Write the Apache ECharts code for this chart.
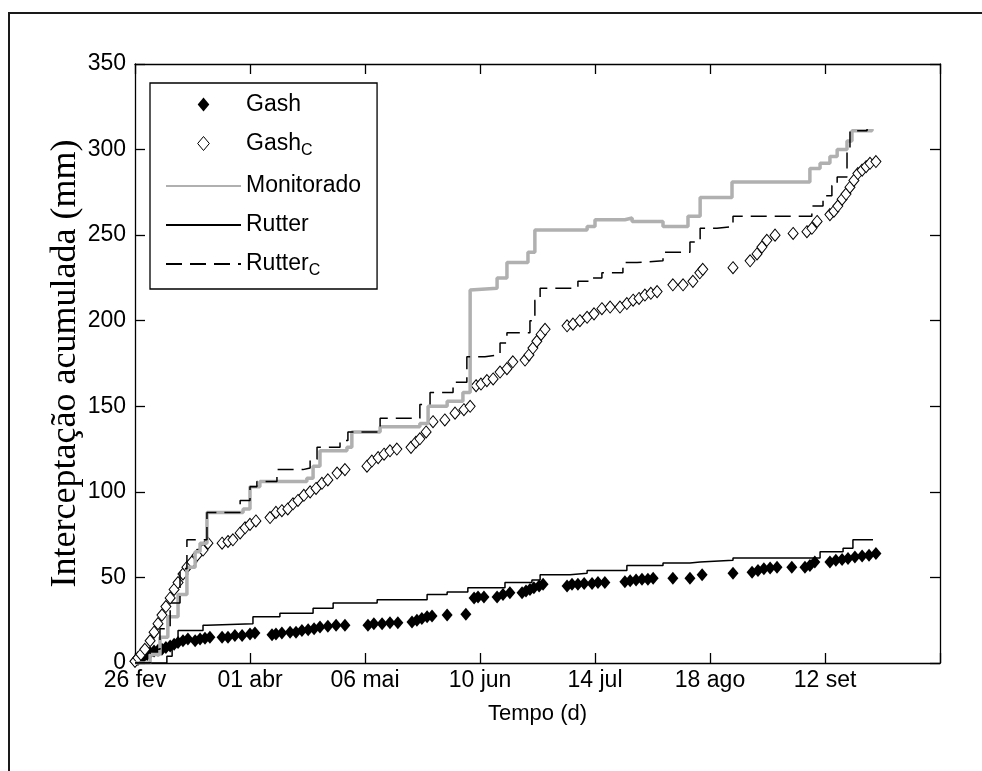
<!DOCTYPE html>
<html>
<head>
<meta charset="utf-8">
<script src="https://cdn.jsdelivr.net/npm/echarts@6/dist/echarts.min.js"></script>
<style>
html, body { margin: 0; padding: 0; background: #fff; }
#chart { width: 982px; height: 771px; }
</style>
</head>
<body>
<div id="chart"></div>
<script>
// eixo x em dias desde 26 fev
var xTickLabels = ['26 fev', '01 abr', '06 mai', '10 jun', '14 jul', '18 ago', '12 set'];

// Gash (losangos cheios)
var gashDays = [0, 0.9, 1.8, 2.7, 3.7, 4.6, 5.8, 7.0, 8.2, 9.4, 10.7, 11.9, 13.1, 14.6, 16.1, 18.3, 19.8, 21.3, 22.8,
  26.5, 28.3, 30.4, 32.6, 35.0, 36.5, 41.7, 42.9, 44.7, 47.2, 49.0, 50.8, 52.7, 54.5, 56.3, 58.7, 61.2, 63.9,
  70.9, 72.7, 75.2, 77.6, 80.0, 84.3, 85.8, 87.3, 88.9, 90.4, 95.0, 100.7, 103.2, 104.4, 106.2, 110.2, 112.0, 114.1,
  117.8, 119.0, 120.2, 121.4, 123.0, 124.2, 131.5, 133.0, 134.8, 136.7, 139.1, 140.9, 143.0, 149.1, 150.7, 152.5,
  154.3, 156.1, 157.7, 163.7, 168.9, 172.6, 182.0, 187.8, 189.6, 191.4, 193.3, 195.4, 199.9, 203.9, 205.4, 206.9,
  211.5, 213.3, 215.2, 217.0, 219.1, 221.3, 223.4, 225.5];
var gashValues = [1, 2, 3, 4, 5, 6, 7, 7.5, 8, 9, 10, 11, 12, 13, 14, 13, 14, 14.5, 15,
  15, 15, 16, 16, 17, 17.5, 16.5, 17, 17.5, 18, 18, 19, 19.5, 20, 21, 21.5, 22, 22,
  22, 23, 23, 23.5, 23.5, 24, 25, 26, 27, 27.5, 28, 28.5, 38, 38.5, 38.5, 38.5, 40, 41,
  41, 42, 43, 44, 45, 46, 45, 46, 46, 46.5, 46.5, 47, 47, 47.5, 48, 48.5,
  49, 49, 49.5, 49.5, 49.5, 51.5, 52.5, 53, 54, 55, 55.5, 56, 56, 56, 57, 59,
  59, 60, 60.5, 61, 62, 62.5, 63, 64];

// Gash_C (losangos vazios)
var gashCDays = [0, 0.9, 1.8, 3.0, 4.6, 5.8, 7.0, 8.2, 9.4, 10.7, 11.9, 13.1, 14.6, 15.8, 17.3, 18.9, 20.7, 22.2,
  26.5, 28.3, 29.8, 32.0, 33.5, 35.0, 36.8, 41.1, 42.9, 44.7, 46.5, 48.1, 49.6, 51.4, 53.3, 55.1, 56.9, 58.7, 61.5, 63.9,
  70.6, 72.1, 74.0, 75.8, 77.6, 79.7, 84.0, 85.5, 86.7, 88.6, 90.7, 94.3, 97.4, 100.1, 102.0, 103.8, 105.3, 107.1,
  109.0, 111.1, 113.2, 115.0, 118.7, 119.9, 121.1, 122.3, 123.6, 124.8, 131.5, 133.3, 135.4, 137.6, 139.7, 142.1,
  144.6, 147.6, 149.7, 151.6, 153.4, 155.2, 157.0, 158.9, 163.7, 166.8, 169.8, 171.9, 172.8, 182.0, 187.2, 189.3,
  190.8, 192.3, 194.8, 200.3, 204.5, 206.0, 207.6, 211.5, 212.7, 213.9, 215.2, 216.4, 217.6, 218.8, 220.0, 221.3,
  222.5, 223.7, 225.5];
var gashCValues = [1, 3, 5, 8, 13, 18, 23, 28, 33, 38, 43, 47, 52, 56, 59, 63, 66, 70,
  70, 71, 72, 76, 79, 81, 83, 85, 88, 89, 90, 93, 95, 98, 100, 102, 105, 107, 111, 113,
  115, 118, 120, 122, 124, 125, 126, 129, 131, 135, 141, 142, 146, 148, 150, 162, 163, 165,
  166, 170, 172, 176, 177, 180, 184, 188, 192, 195, 197, 198, 200, 202, 204, 207,
  208, 208, 210, 212, 213, 215, 216, 217, 221, 221, 223, 228, 230, 231, 235, 239,
  243, 247, 250, 251, 252, 254, 258, 262, 264, 267, 271, 274, 278, 282, 286, 288,
  290, 292, 293];

// Monitorado (linha cinza)
var monDays = [0, 4.6, 7.6, 10.0, 13.1, 15.8, 18.3, 19.8, 21.9, 32.9, 35.0, 38.0, 52.3, 54.2, 56.3, 64.5, 66.0,
  74.6, 86.7, 89.2, 95.0, 99.8, 102.0, 102.6, 110.2, 113.2, 119.6, 121.7, 137.6, 140.0, 149.1, 151.3, 160.7,
  168.3, 172.0, 181.7, 205.4, 208.5, 211.5, 213.7, 216.7, 218.2, 224.3];
var monValues = [0, 5, 15, 27, 40, 56, 65, 70, 88, 90, 103, 106, 108, 115, 124, 126, 135,
  138, 140, 150, 153, 158, 218, 219, 225, 234, 240, 253, 255, 259, 260, 258, 255,
  261, 272, 281, 289, 292, 296, 300, 305, 311, 312];

// Rutter (linha cheia)
var rutDays = [0, 9.7, 11.3, 13.1, 20.7, 21.9, 35.9, 44.1, 54.2, 60.3, 73.7, 88.9, 95.0, 101.3, 112.6, 120.8,
  123.3, 132.4, 137.6, 149.7, 160.7, 168.9, 172.0, 182.0, 208.5, 215.5, 218.5, 224.6];
var rutValues = [0, 4, 10, 19, 22, 23, 27, 29, 32, 35, 37, 40, 41.5, 44, 47, 48.5,
  51.5, 52.5, 54, 57, 58.5, 59, 60, 61.3, 65, 67, 72, 72];

// Rutter_C (linha tracejada)
var rutCDays = [0, 4.6, 7.6, 10.7, 13.7, 15.8, 21.9, 32.0, 35.0, 37.1, 43.2, 51.1, 53.3, 55.4, 62.4, 64.8, 74.6,
  86.7, 89.8, 96.8, 101.0, 106.5, 111.1, 113.2, 120.2, 121.7, 123.3, 134.8, 138.5, 142.1, 148.5, 152.8, 160.7,
  168.9, 172.0, 177.1, 182.0, 206.0, 209.4, 212.1, 213.7, 216.7, 217.6, 222.8];
var rutCValues = [0, 8, 20, 35, 55, 72, 88, 95, 103, 106, 113, 114, 119, 126, 130, 135, 143,
  151, 158, 164, 179, 180, 187, 193, 200, 212, 219, 223, 225, 228, 234, 235, 240,
  246, 254, 255, 261, 267, 273, 279, 284, 299, 311, 312];

function pairs(xs, ys) {
  var out = [];
  for (var i = 0; i < xs.length; i++) {
    out.push([xs[i], ys[i]]);
  }
  return out;
}

var sans = 'Liberation Sans, Arial, sans-serif';
var diamondPath = 'path://M5,0L10,6L5,12L0,6Z';
var chart = echarts.init(document.getElementById('chart'), null, { renderer: 'canvas' });

var axisLine = { show: true, onZero: false, lineStyle: { color: '#000', width: 1.3 } };
var axisTick = { show: true, inside: true, length: 10, lineStyle: { color: '#000', width: 1.3 } };

option = {
  backgroundColor: '#fff',
  animation: false,
  graphic: [{
    type: 'rect',
    shape: { x: 9, y: 13, width: 1000, height: 800 },
    style: { fill: 'none', stroke: '#1a1a1a', lineWidth: 2 },
    silent: true
  }],
  grid: { left: 135, right: 42, top: 64, bottom: 108 },
  legend: {
    orient: 'vertical',
    left: 150,
    top: 83,
    padding: [10, 16, 10, 15],
    itemWidth: 75,
    itemHeight: 14,
    itemGap: 16,
    borderColor: '#000',
    borderWidth: 1.3,
    backgroundColor: '#fff',
    selectedMode: false,
    symbolKeepAspect: true,
    data: [
      { name: 'Gash', icon: diamondPath, itemStyle: { color: '#000', opacity: 1 } },
      { name: 'GashC', icon: diamondPath, itemStyle: { color: '#fff', borderColor: '#000', borderWidth: 1, opacity: 1 } },
      { name: 'Monitorado', itemStyle: { opacity: 0 } },
      { name: 'Rutter', itemStyle: { opacity: 0 } },
      { name: 'RutterC', itemStyle: { opacity: 0 } }
    ],
    formatter: function (name) {
      if (name === 'GashC') return '{n|Gash}{s|C}';
      if (name === 'RutterC') return '{n|Rutter}{s|C}';
      return '{n|' + name + '}';
    },
    textStyle: {
      color: '#000',
      fontFamily: sans,
      rich: {
        n: { fontSize: 23, fontFamily: sans, color: '#000' },
        s: { fontSize: 16, fontFamily: sans, color: '#000', padding: [14, 0, 0, 0] }
      }
    }
  },
  xAxis: [{
    type: 'value',
    position: 'bottom',
    min: 0,
    max: 245,
    interval: 35,
    axisLine: axisLine,
    axisTick: axisTick,
    splitLine: { show: false },
    axisLabel: {
      color: '#000',
      fontSize: 23,
      fontFamily: sans,
      margin: 6,
      formatter: function (v) {
        var i = Math.round(v / 35);
        return xTickLabels[i] || '';
      }
    },
    name: 'Tempo (d)',
    nameLocation: 'middle',
    nameGap: 40,
    nameMoveOverlap: false,
    nameTextStyle: { color: '#000', fontSize: 22, fontFamily: sans }
  }, {
    type: 'value',
    position: 'top',
    min: 0,
    max: 245,
    interval: 35,
    axisLine: axisLine,
    axisTick: axisTick,
    axisLabel: { show: false },
    splitLine: { show: false }
  }],
  yAxis: [{
    type: 'value',
    position: 'left',
    min: 0,
    max: 350,
    interval: 50,
    axisLine: axisLine,
    axisTick: axisTick,
    splitLine: { show: false },
    axisLabel: { color: '#000', fontSize: 23, fontFamily: sans, margin: 9 },
    name: 'Interceptação acumulada (mm)',
    nameLocation: 'middle',
    nameGap: 51,
    nameMoveOverlap: false,
    nameTextStyle: { color: '#000', fontSize: 36, fontFamily: 'Liberation Serif, Times New Roman, serif' }
  }, {
    type: 'value',
    position: 'right',
    min: 0,
    max: 350,
    interval: 50,
    axisLine: axisLine,
    axisTick: axisTick,
    axisLabel: { show: false },
    splitLine: { show: false }
  }],
  series: [{
    name: 'Gash',
    type: 'scatter',
    data: pairs(gashDays, gashValues),
    symbol: 'diamond',
    symbolSize: [11, 13],
    itemStyle: { color: '#000', opacity: 1 },
    z: 2
  }, {
    name: 'GashC',
    type: 'scatter',
    data: pairs(gashCDays, gashCValues),
    symbol: 'diamond',
    symbolSize: [10, 12],
    itemStyle: { color: '#fff', borderColor: '#000', borderWidth: 1, opacity: 1 },
    z: 3
  }, {
    name: 'Monitorado',
    type: 'line',
    step: 'end',
    data: pairs(monDays, monValues),
    symbol: 'none',
    itemStyle: { color: '#b0b0b0' },
    lineStyle: { color: '#b0b0b0', width: 3.5 },
    z: 4
  }, {
    name: 'Rutter',
    type: 'line',
    step: 'end',
    data: pairs(rutDays, rutValues),
    symbol: 'none',
    itemStyle: { color: '#000' },
    lineStyle: { color: '#000', width: 1.5 },
    z: 5
  }, {
    name: 'RutterC',
    type: 'line',
    step: 'end',
    data: pairs(rutCDays, rutCValues),
    symbol: 'none',
    itemStyle: { color: '#000' },
    lineStyle: { color: '#000', width: 1.5, type: [16, 8] },
    z: 6
  }]
};

chart.setOption(option);
</script>
</body>
</html>
